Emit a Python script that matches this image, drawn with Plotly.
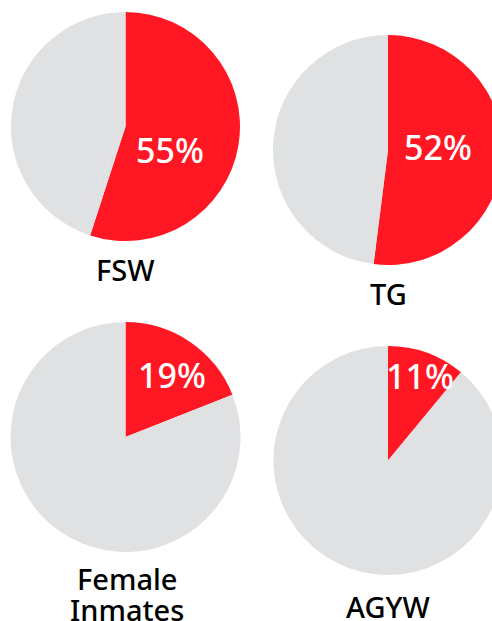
import plotly.graph_objects as go

# Data
groups = ["FSW", "TG", "Female Inmates", "AGYW"]
slice_labels = ["Yes", "Other", "No"]
values_fsw = [55, 2, 43]
values_tg = [52, 0, 48]
values_inmates = [19, 0, 81]
values_agyw = [11, 0, 89]
all_values = [values_fsw, values_tg, values_inmates, values_agyw]

RED = "#FF1824"
GRAY = "#E0E1E3"
W, H = 504, 621
FONT = "Noto Sans"

# pie boxes in pixels (x0, x1, y0, y1) from top-left
boxes = [
    (11, 240, 12, 241),
    (273, 503, 35, 265),
    (10.5, 240.5, 322, 552),
    (273.5, 502.5, 346, 575),
]
# label positions (pixel centres)
pct_pos = [(170, 150), (438, 147), (172, 375), (420, 376)]
name_pos = [(125, 270), (388, 293), (127, 594), (388, 606)]

fig = go.Figure()
for name, vals, (x0, x1, y0, y1), (px, py), (nx, ny) in zip(
        groups, all_values, boxes, pct_pos, name_pos):
    fig.add_trace(go.Pie(
        labels=slice_labels,
        values=vals,
        textinfo="none",
        sort=False,
        direction="clockwise",
        rotation=0,
        marker=dict(colors=[RED, GRAY, GRAY], line=dict(width=0)),
        domain=dict(x=[x0 / W, x1 / W], y=[1 - y1 / H, 1 - y0 / H]),
        hoverinfo="label+percent",
        showlegend=False,
    ))
    fig.add_annotation(
        text=f"{vals[0]}%", x=px / W, y=1 - py / H, xref="paper", yref="paper",
        xanchor="center", yanchor="middle", showarrow=False,
        font=dict(family=FONT, size=34, color="white", weight=500),
    )
    words = name.split(" ")
    n = len(words)
    for i, w in enumerate(words):
        yy = ny + (i - (n - 1) / 2) * 31
        fig.add_annotation(
            text=w, x=nx / W, y=1 - yy / H, xref="paper", yref="paper",
            xanchor="center", yanchor="middle", showarrow=False,
            font=dict(family=FONT, size=29, color="#000000", weight=500),
        )

fig.update_layout(
    width=W, height=H,
    margin=dict(l=0, r=0, t=0, b=0),
    paper_bgcolor="white",
    plot_bgcolor="white",
)

fig.write_html(
    "out.html",
    config={"displayModeBar": False},
    post_script="document.body.style.margin='0';document.body.style.overflow='hidden';",
)
